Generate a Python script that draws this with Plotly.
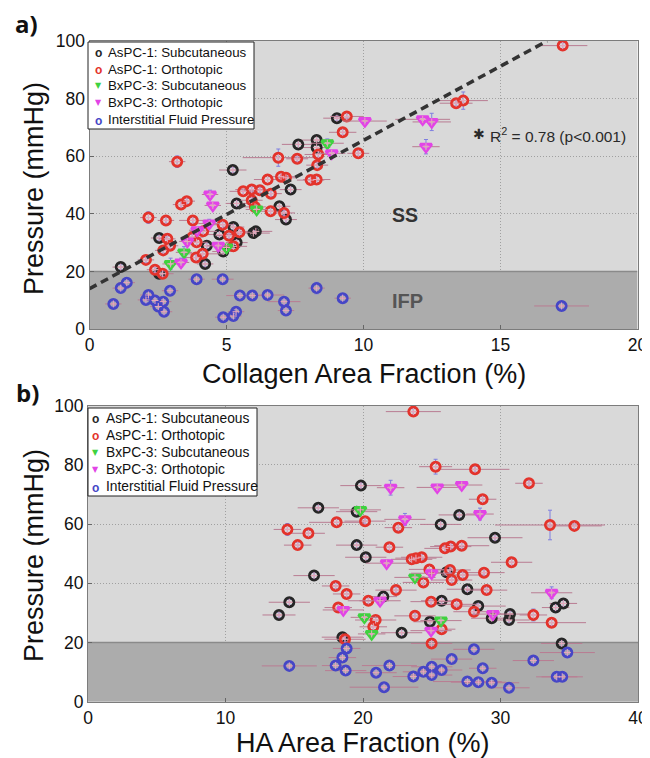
import plotly.graph_objects as go

# the page places the figure 8 px from the top-left corner (default body margin)
OFF = 8
W, H = 650 - OFF, 758 - OFF

# ---------------- Panel a) : Collagen Area Fraction (%) vs Pressure (mmHg)
a_asc_sub_x = [9.03, 7.62, 8.29, 8.29, 5.23, 7.34, 5.37, 6.93, 7.17, 5.25, 4.74, 5.98, 6.07, 4.28, 4.88, 4.22, 2.54, 1.14, 2.54, 5.37]
a_asc_sub_y = [73.2, 64.1, 65.6, 63.0, 55.2, 48.4, 43.6, 42.6, 38.0, 35.4, 32.8, 33.3, 33.9, 28.9, 26.9, 22.6, 31.6, 21.5, 19.2, 30.0]
a_asc_sub_ex = [0.5, 0.6, 0.6, 0.5, 0.5, 0.4, 0.4, 0.4, 0.4, 0.4, 0.5, 0.6, 0.6, 0.4, 0.4, 0.3, 0.3, 0.3, 0.3, 0.4]
a_asc_sub_ey = [1.0, 1.5, 1.5, 1.5, 1.0, 1.0, 1.0, 1.5, 1.0, 1.0, 1.0, 1.0, 1.0, 1.0, 1.0, 1.0, 1.0, 1.0, 1.0, 1.0]

a_asc_ort_x = [17.27, 13.38, 13.64, 9.39, 9.24, 9.81, 3.2, 6.89, 7.58, 8.35, 8.31, 6.5, 6.99, 7.17, 8.07, 8.29, 5.61, 5.92, 6.22, 6.62, 5.92, 6.04,
               6.61, 7.1, 3.34, 3.55, 2.15, 2.79, 3.77, 4.86, 4.15, 3.75, 3.91, 5.09, 5.47, 5.25, 2.84, 2.94, 2.69, 4.13, 3.89, 2.06, 2.39, 2.67]
a_asc_ort_y = [98.4, 78.4, 79.3, 73.8, 68.3, 61.0, 58.1, 59.5, 59.1, 60.6, 56.9, 51.9, 52.9, 52.5, 51.7, 51.9, 47.8, 48.4, 48.2, 47.0, 44.7, 42.4,
               40.9, 40.3, 43.2, 44.4, 38.7, 37.7, 37.7, 36.2, 33.9, 31.9, 30.1, 32.4, 33.6, 28.7, 31.3, 28.9, 27.3, 26.1, 24.8, 24.0, 20.6, 19.2]
a_asc_ort_ex = [0.9, 0.6, 0.9, 0.6, 0.5, 0.4, 0.3, 1.3, 0.4, 0.5, 0.4, 0.5, 0.6, 0.4, 0.5, 0.5, 0.5, 0.6, 0.6, 0.4, 0.4, 0.4,
                0.4, 0.4, 0.3, 0.3, 0.3, 0.3, 0.5, 0.4, 0.5, 0.4, 0.4, 0.5, 0.4, 0.5, 0.3, 0.3, 0.3, 0.8, 0.4, 0.3, 0.3, 0.4]
a_asc_ort_ey = [1.0, 1.0, 3.0, 1.0, 1.0, 1.0, 2.0, 3.0, 1.0, 1.0, 1.0, 1.5, 1.0, 1.0, 1.0, 1.0, 1.5, 1.0, 1.0, 1.0, 1.0, 1.0,
                1.0, 1.0, 1.0, 1.0, 2.0, 1.0, 1.0, 1.0, 1.0, 1.0, 1.0, 1.0, 1.0, 1.0, 1.0, 1.0, 1.0, 1.0, 1.0, 1.0, 1.0, 1.0]

a_bx_sub_x = [8.68, 6.1, 5.0, 3.45, 2.96]
a_bx_sub_y = [64.5, 41.5, 28.3, 26.6, 22.6]
a_bx_sub_ex = [0.6, 0.4, 0.3, 0.3, 0.3]
a_bx_sub_ey = [1.5, 1.0, 1.0, 2.0, 2.0]

a_bx_ort_x = [10.05, 12.16, 12.49, 12.28, 8.84, 4.4, 4.5, 4.37, 3.93, 3.57, 4.7, 3.34]
a_bx_ort_y = [72.2, 72.8, 71.9, 63.3, 61.0, 46.7, 42.9, 36.6, 34.3, 30.4, 28.9, 23.1]
a_bx_ort_ex = [0.8, 1.0, 0.7, 0.5, 0.5, 0.3, 0.3, 0.4, 0.3, 0.3, 0.4, 0.3]
a_bx_ort_ey = [1.0, 1.0, 3.0, 2.5, 1.0, 1.5, 1.0, 1.5, 1.0, 1.0, 1.0, 1.5]

a_ifp_x = [1.36, 1.14, 0.87, 2.15, 2.06, 2.39, 2.69, 2.51, 2.72, 2.94, 3.91, 4.86, 5.49, 5.94, 6.5, 7.1, 7.17, 8.29, 9.24, 4.88, 5.25, 5.35, 17.23]
a_ifp_y = [16.1, 14.2, 8.7, 11.8, 10.1, 9.9, 9.5, 7.8, 6.0, 13.3, 17.3, 17.3, 11.6, 11.6, 11.8, 9.5, 6.4, 14.2, 10.7, 4.1, 4.5, 6.0, 8.0]
a_ifp_ex = [0.3, 0.3, 0.3, 0.3, 0.3, 0.3, 0.3, 0.3, 0.3, 0.3, 0.3, 0.4, 0.5, 0.5, 0.6, 0.6, 0.3, 0.3, 0.3, 0.3, 0.3, 0.3, 1.0]
a_ifp_ey = [1.0, 1.0, 1.0, 1.0, 1.0, 1.0, 1.0, 1.0, 1.0, 1.0, 1.5, 1.0, 1.0, 1.0, 1.0, 1.0, 1.0, 2.0, 1.0, 1.0, 1.0, 1.0, 1.0]

# regression line (end points)
fit_x = [0.0, 16.7]
fit_y = [14.0, 100.0]

# ---------------- Panel b) : HA Area Fraction (%) vs Pressure (mmHg)
b_asc_sub_x = [16.75, 16.44, 14.64, 13.89, 18.5, 19.54, 19.54, 19.85, 27.0, 25.65, 29.6, 20.2, 26.08, 21.48, 27.59, 25.72, 28.38, 29.36, 30.69,
               30.62, 24.87, 22.81, 34.01, 34.57, 34.45]
b_asc_sub_y = [65.5, 42.6, 33.6, 29.3, 21.8, 64.2, 52.9, 73.0, 63.1, 59.9, 55.4, 48.8, 43.7, 35.5, 38.0, 34.1, 32.3, 28.2, 29.6,
               27.6, 27.0, 23.3, 31.8, 33.2, 19.7]
b_asc_sub_ex = [1.5, 1.5, 1.5, 1.2, 1.5, 1.5, 1.5, 1.5, 1.5, 1.5, 2.0, 1.5, 1.5, 1.0, 1.5, 1.5, 2.0, 1.5, 1.5, 1.5, 1.2, 1.5, 1.0, 1.0, 1.5]
b_asc_sub_ey = [1.0, 1.0, 1.0, 1.0, 1.0, 1.0, 1.0, 1.0, 1.0, 1.0, 1.0, 1.0, 1.0, 1.0, 1.0, 1.0, 1.0, 1.0, 1.0, 1.0, 1.0, 1.0, 1.0, 1.0, 1.0]

b_asc_ort_x = [23.66, 25.28, 28.15, 32.07, 28.7, 33.6, 35.37, 18.08, 20.15, 22.57, 14.5, 16.03, 15.25, 21.92, 25.96, 26.38, 27.18, 23.54, 23.85,
               24.27, 30.81, 24.83, 26.33, 27.25, 28.8, 18.01, 18.81, 18.2, 18.69, 20.39, 22.4, 20.92, 20.75, 23.78, 24.39, 26.45, 28.99,
               24.95, 26.81, 28.07, 25.72, 24.99, 32.39, 33.72]
b_asc_ort_y = [98.0, 79.4, 78.5, 73.8, 68.4, 59.7, 59.4, 60.6, 61.0, 58.8, 58.2, 56.9, 52.9, 52.2, 51.8, 52.4, 52.7, 48.1, 48.5,
               48.8, 47.1, 44.7, 44.5, 42.8, 43.6, 39.1, 36.4, 31.8, 21.1, 34.1, 37.7, 27.6, 25.3, 29.0, 40.3, 41.1, 37.7,
               33.8, 32.9, 30.4, 24.5, 19.7, 29.3, 26.7]
b_asc_ort_ex = [2.0, 1.2, 2.5, 1.0, 1.0, 4.0, 2.0, 2.0, 1.5, 1.0, 1.0, 1.2, 1.0, 1.0, 1.5, 1.5, 2.0, 1.5, 1.5,
                1.5, 1.5, 1.5, 1.5, 1.5, 1.5, 1.0, 1.0, 1.0, 1.5, 1.5, 1.5, 1.5, 1.0, 1.5, 1.5, 1.5, 1.5,
                1.5, 1.5, 1.5, 1.0, 1.5, 1.0, 2.5]
b_asc_ort_ey = [1.0, 2.5, 1.0, 1.0, 1.0, 5.0, 1.0, 1.0, 1.0, 1.0, 2.0, 1.0, 1.0, 1.0, 1.0, 1.0, 1.0, 1.0, 1.0,
                1.0, 1.0, 1.0, 1.0, 1.0, 1.0, 1.0, 1.0, 1.0, 1.0, 1.0, 1.0, 1.0, 1.0, 1.0, 1.0, 1.0, 1.0,
                1.0, 1.0, 1.0, 1.0, 1.0, 2.0, 1.0]

b_bx_sub_x = [19.81, 23.78, 20.1, 20.63, 25.67]
b_bx_sub_y = [64.8, 42.0, 28.5, 22.9, 27.4]
b_bx_sub_ex = [1.5, 1.5, 1.0, 1.0, 1.5]
b_bx_sub_ey = [1.0, 1.0, 1.0, 1.0, 1.0]

b_bx_ort_x = [22.01, 25.4, 27.18, 23.05, 28.51, 21.72, 24.99, 18.57, 21.24, 24.95, 29.45, 33.72]
b_bx_ort_y = [72.3, 72.4, 73.2, 61.6, 63.4, 46.8, 43.4, 31.0, 34.1, 24.0, 29.6, 36.8]
b_bx_ort_ex = [1.0, 1.5, 1.5, 1.5, 1.0, 1.5, 1.5, 1.5, 1.5, 1.5, 1.5, 1.5]
b_bx_ort_ey = [2.5, 1.0, 1.0, 2.0, 2.0, 1.0, 1.0, 1.0, 1.0, 1.0, 1.0, 2.0]

b_ifp_x = [14.64, 18.81, 18.5, 18.01, 18.74, 21.92, 20.95, 21.53, 23.66, 24.39, 25.0, 25.0, 25.72, 26.45, 28.07, 28.71, 27.59, 28.39,
           29.36, 30.62, 32.39, 34.86, 34.09, 34.49]
b_ifp_y = [12.1, 18.0, 14.9, 12.2, 10.5, 12.2, 9.8, 4.9, 8.5, 10.1, 11.8, 9.0, 10.7, 14.4, 17.7, 11.3, 6.8, 6.6,
           6.4, 4.7, 13.9, 16.6, 8.4, 8.4]
b_ifp_ex = [2.0, 1.0, 1.0, 1.0, 1.5, 2.0, 1.5, 2.5, 1.5, 1.5, 1.5, 1.5, 1.5, 1.5, 1.5, 1.0, 2.5, 2.0, 2.0, 1.5, 1.5, 2.0, 1.5, 1.5]
b_ifp_ey = [1.0, 1.0, 1.0, 1.0, 1.0, 1.0, 1.0, 1.0, 1.0, 1.0, 1.0, 1.0, 1.0, 1.0, 1.0, 1.0, 1.0, 1.0, 1.0, 1.0, 1.0, 1.0, 1.0, 1.0]

series_names = ["AsPC-1: Subcutaneous", "AsPC-1: Orthotopic", "BxPC-3: Subcutaneous",
                "BxPC-3: Orthotopic", "Interstitial Fluid Pressure"]
series_colors = ["#262626", "#e3332b", "#3fd23f", "#e244e6", "#4646c6"]
series_symbols = ["circle-open", "circle-open", "triangle-down-open", "triangle-down-open", "circle-open"]
legend_glyphs = ["o", "o", "▼", "▼", "o"]

panel_a = [
    (a_asc_sub_x, a_asc_sub_y, a_asc_sub_ex, a_asc_sub_ey),
    (a_asc_ort_x, a_asc_ort_y, a_asc_ort_ex, a_asc_ort_ey),
    (a_bx_sub_x, a_bx_sub_y, a_bx_sub_ex, a_bx_sub_ey),
    (a_bx_ort_x, a_bx_ort_y, a_bx_ort_ex, a_bx_ort_ey),
    (a_ifp_x, a_ifp_y, a_ifp_ex, a_ifp_ey),
]
panel_b = [
    (b_asc_sub_x, b_asc_sub_y, b_asc_sub_ex, b_asc_sub_ey),
    (b_asc_ort_x, b_asc_ort_y, b_asc_ort_ex, b_asc_ort_ey),
    (b_bx_sub_x, b_bx_sub_y, b_bx_sub_ex, b_bx_sub_ey),
    (b_bx_ort_x, b_bx_ort_y, b_bx_ort_ex, b_bx_ort_ey),
    (b_ifp_x, b_ifp_y, b_ifp_ex, b_ifp_ey),
]

FONT = "Liberation Sans, Arial, Helvetica, sans-serif"


def pxx(x):
    # page pixel -> paper fraction
    return (x - OFF) / W


def pxy(y):
    return 1 - (y - OFF) / H


fig = go.Figure()


def add_panel(panel, xa, ya):
    for (xs, ys, ex, ey), col, sym in zip(panel, series_colors, series_symbols):
        is_tri = "triangle" in sym
        fig.add_trace(go.Scatter(
            x=xs, y=ys, mode="markers", xaxis=xa, yaxis=ya, showlegend=False, hoverinfo="skip",
            marker=dict(symbol=sym, size=10 if is_tri else 9, color=col,
                        line=dict(width=3, color=col)),
            error_x=dict(type="data", array=ex, color="#b97c92", thickness=1, width=0),
            error_y=dict(type="data", array=ey, color="#7f7fe0", thickness=1, width=2),
        ))
        fig.add_trace(go.Scatter(
            x=xs, y=ys, mode="markers", xaxis=xa, yaxis=ya, showlegend=False, hoverinfo="skip",
            marker=dict(symbol="cross-thin-open", size=5, color="#e8aabb",
                        line=dict(width=1, color="#e8aabb")),
        ))


add_panel(panel_a, "x", "y")
add_panel(panel_b, "x2", "y2")

fig.add_trace(go.Scatter(x=fit_x, y=fit_y, mode="lines", xaxis="x", yaxis="y", showlegend=False,
                         hoverinfo="skip", line=dict(color="#333333", width=3.5, dash="8px,5px")))

tickfont = dict(family=FONT, size=17.5, color="#111111")
common = dict(showgrid=True, gridcolor="#a0a0a0", griddash="1px,2px", gridwidth=1, zeroline=False,
              showline=True, linecolor="#7c7c7c", linewidth=1, mirror=True, ticks="inside",
              ticklen=4, tickcolor="#666666", tickfont=tickfont, automargin=False)

fig.update_layout(
    width=W, height=H, margin=dict(l=0, r=0, t=0, b=0),
    paper_bgcolor="white", plot_bgcolor="#d9d9d9", showlegend=False,
    xaxis=dict(domain=[pxx(89.5), pxx(637.5)], range=[0, 20], dtick=5, anchor="y", **common),
    yaxis=dict(domain=[pxy(329), pxy(41)], range=[0, 100], dtick=20, anchor="x", **common),
    xaxis2=dict(domain=[pxx(88), pxx(638)], range=[0, 40], dtick=10, anchor="y2", **common),
    yaxis2=dict(domain=[pxy(701.7), pxy(405.7)], range=[0, 100], dtick=20, anchor="x2", **common),
)

shapes = []
for xr, yr, xmax in (("x", "y", 20), ("x2", "y2", 40)):
    shapes.append(dict(type="rect", xref=xr, yref=yr, x0=0, x1=xmax, y0=0, y1=20,
                       fillcolor="#acacac", line=dict(width=0), layer="between"))
    shapes.append(dict(type="line", xref=xr, yref=yr, x0=0, x1=xmax, y0=20, y1=20,
                       line=dict(color="#8a8a8a", width=1.5), layer="between"))

annotations = []

# manual legends
for (bx0, bx1, by0, by1, line0, step, sym_x, txt_x, fsize) in (
        (88, 254, 42, 129, 52.5, 16.75, 98.3, 106, 13.3),
        (88, 257, 408, 496, 418.3, 17.1, 96.0, 104, 13.8)):
    shapes.append(dict(type="rect", xref="paper", yref="paper", x0=pxx(bx0), x1=pxx(bx1),
                       y0=pxy(by1), y1=pxy(by0), fillcolor="white",
                       line=dict(color="#222222", width=1), layer="above"))
    for i, (name, col, g) in enumerate(zip(series_names, series_colors, legend_glyphs)):
        yy = line0 + i * step
        if g == "o":
            annotations.append(dict(xref="paper", yref="paper", x=pxx(sym_x), y=pxy(yy + 1),
                                    text="<b>o</b>", showarrow=False, xanchor="center", yanchor="middle",
                                    font=dict(family=FONT, size=12, color=col)))
        else:
            annotations.append(dict(xref="paper", yref="paper", x=pxx(sym_x), y=pxy(yy),
                                    text=g, showarrow=False, xanchor="center", yanchor="middle",
                                    font=dict(family="DejaVu Sans", size=8, color=col)))
        annotations.append(dict(xref="paper", yref="paper", x=pxx(txt_x), y=pxy(yy),
                                text=name, showarrow=False, xanchor="left", yanchor="middle",
                                font=dict(family=FONT, size=fsize, color="#111111")))

# axis titles
title_font = dict(family=FONT, size=27, color="#111111")
annotations += [
    dict(xref="paper", yref="paper", x=pxx(363.5), y=pxy(374), text="Collagen Area Fraction (%)",
         showarrow=False, xanchor="center", yanchor="middle", font=title_font),
    dict(xref="paper", yref="paper", x=pxx(363), y=pxy(742.5), text="HA Area Fraction (%)",
         showarrow=False, xanchor="center", yanchor="middle", font=title_font),
    dict(xref="paper", yref="paper", x=pxx(34), y=pxy(189), text="Pressure (mmHg)", textangle=-90,
         showarrow=False, xanchor="center", yanchor="middle", font=title_font),
    dict(xref="paper", yref="paper", x=pxx(34), y=pxy(556), text="Pressure (mmHg)", textangle=-90,
         showarrow=False, xanchor="center", yanchor="middle", font=title_font),
    dict(xref="paper", yref="paper", x=pxx(26), y=pxy(23), text="<b>a)</b>",
         showarrow=False, xanchor="center", yanchor="middle",
         font=dict(family="Open Sans, Noto Sans, sans-serif", size=24, color="#111111")),
    dict(xref="paper", yref="paper", x=pxx(27), y=pxy(392), text="<b>b)</b>",
         showarrow=False, xanchor="center", yanchor="middle",
         font=dict(family="Open Sans, Noto Sans, sans-serif", size=24, color="#111111")),
    # region labels
    dict(xref="x", yref="y", x=11.5, y=39.7, text="<b>SS</b>", showarrow=False,
         font=dict(family=FONT, size=19.5, color="#333333")),
    dict(xref="x", yref="y", x=11.6, y=9.6, text="<b>IFP</b>", showarrow=False,
         font=dict(family=FONT, size=20, color="#555555")),
    dict(xref="x", yref="y", x=14.53, y=67.2, text="R<sup>2</sup> = 0.78 (p<0.001)", showarrow=False,
         xanchor="left", yanchor="middle", font=dict(family=FONT, size=15.5, color="#2a2a2a")),
    dict(xref="x", yref="y", x=14.23, y=67.6, text="✱", showarrow=False,
         xanchor="center", yanchor="middle", font=dict(family="DejaVu Sans", size=14, color="#2a2a2a")),
]

fig.update_layout(shapes=shapes, annotations=annotations)
fig.write_html("out.html")
